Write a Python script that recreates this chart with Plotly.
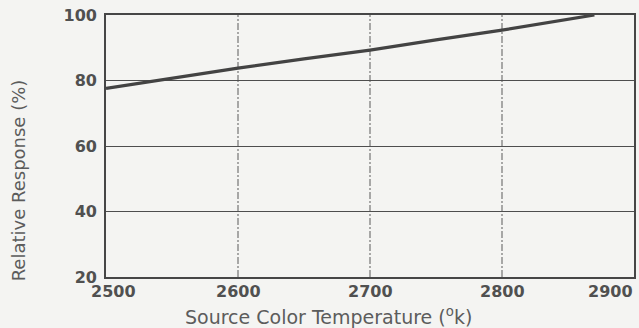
import plotly.graph_objects as go

temperature = [2500, 2550, 2600, 2650, 2700, 2750, 2800, 2870]
response = [77.6, 80.8, 83.8, 86.6, 89.3, 92.4, 95.4, 100.0]

x_ticks = [2500, 2600, 2700, 2800, 2900]
y_ticks = [20, 40, 60, 80, 100]

ink = "#464646"
text_col = "#505050"
bg = "#f4f4f2"
font_fam = "DejaVu Sans, Verdana, Arial"

fig = go.Figure()
fig.add_trace(go.Scatter(x=temperature, y=response, mode="lines",
                         line=dict(color="#434343", width=3.2), showlegend=False))

# vertical dash-dot grid lines
for xv in x_ticks[1:-1]:
    fig.add_shape(type="line", xref="x", yref="paper", x0=xv, x1=xv, y0=0, y1=1,
                  line=dict(color="#5a5a5a", width=1, dash="7px,2px,2px,2px"), layer="below")

# x tick labels (end labels pulled inward as in the reference)
shifts = {x_ticks[0]: 7, x_ticks[-1]: -24}
annotations = []
for xv in x_ticks:
    annotations.append(dict(text=str(xv), xref="x", yref="paper", x=xv, y=0,
                            xshift=shifts.get(xv, 0), yshift=-14, xanchor="center", yanchor="middle",
                            showarrow=False,
                            font=dict(size=16, color=text_col, family=font_fam, weight="bold")))

annotations += [
    dict(text="Source Color Temperature (<sup>o</sup>k)", xref="paper", yref="paper",
         x=(329 - 106) / 530, y=-(316 - 277) / 262, xanchor="center", yanchor="middle",
         showarrow=False, font=dict(size=19, color="#5c5c5c", family=font_fam)),
    dict(text="Relative Response (%)", xref="paper", yref="paper",
         x=-(106 - 18) / 530, y=(277 - 180) / 262, xanchor="center", yanchor="middle",
         textangle=-90, showarrow=False, font=dict(size=18, color="#5c5c5c", family=font_fam)),
]

fig.update_layout(
    width=639, height=328,
    margin=dict(l=106, r=3, t=15, b=51),
    paper_bgcolor=bg, plot_bgcolor=bg,
    font=dict(family=font_fam, color=text_col),
    xaxis=dict(range=[2500, 2900], tickvals=x_ticks, showticklabels=False,
               showgrid=False, zeroline=False, showline=True, linecolor=ink, linewidth=1.8,
               mirror=True, ticks=""),
    yaxis=dict(range=[20, 100], tickvals=y_ticks, showgrid=True, gridcolor="#4e4e4e", gridwidth=1.3,
               zeroline=False, showline=True, linecolor=ink, linewidth=1.6, mirror=True, ticks="",
               ticklabelstandoff=4,
               tickfont=dict(size=16, color=text_col, family=font_fam, weight="bold")),
    annotations=annotations,
)

fig.write_html("out.html")
